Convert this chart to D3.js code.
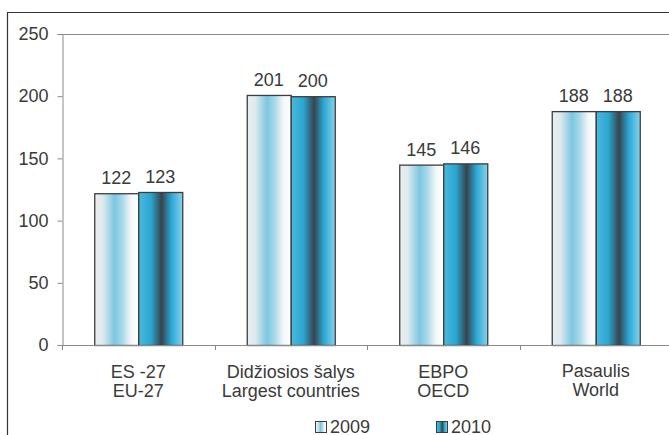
<!DOCTYPE html>
<html><head><meta charset="utf-8">
<script src="https://cdn.jsdelivr.net/npm/d3@7"></script>
<style>
html,body{margin:0;padding:0;background:#fff;}
svg{display:block;font-family:Arial,"Liberation Sans",sans-serif;}
</style></head>
<body>
<svg id="chart" width="669" height="435"></svg>
<script>
const categoriesLine1 = ["ES -27", "Didžiosios šalys", "EBPO", "Pasaulis"];
const categoriesLine2 = ["EU-27", "Largest countries", "OECD", "World"];
const seriesNames = ["2009", "2010"];
const values2009 = [122, 201, 145, 188];
const values2010 = [123, 200, 146, 188];
const yTicks = [0, 50, 100, 150, 200, 250];

const svg = d3.select("#chart");
const W = 669, H = 435;
const plot = {left: 62, right: 672, top: 34, bottom: 345};
const FS = 18;

const defs = svg.append("defs");
const g09 = defs.append("linearGradient").attr("id","g2009").attr("x1","0%").attr("x2","100%").attr("y1","0%").attr("y2","0%");
[["0%","#eaeeef"],["18%","#dfe9ee"],["45%","#7dc6e1"],["62%","#a6d8ea"],["82%","#f4f7f8"],["100%","#ffffff"]]
  .forEach(s=>g09.append("stop").attr("offset",s[0]).attr("stop-color",s[1]));
const g10 = defs.append("linearGradient").attr("id","g2010").attr("x1","0%").attr("x2","100%").attr("y1","0%").attr("y2","0%");
[["0%","#4bb9de"],["28%","#2aa6d0"],["52%","#37444e"],["74%","#2ba8d4"],["100%","#86d3ec"]]
  .forEach(s=>g10.append("stop").attr("offset",s[0]).attr("stop-color",s[1]));

// outer border
svg.append("path").attr("d",`M7.5,${H} V12.5 H${W}`).attr("fill","none").attr("stroke","#333").attr("stroke-width",1.2);

const x0 = d3.scaleBand().domain(categoriesLine1).range([plot.left, plot.right]).padding(0);
const bw = x0.bandwidth();
const barW = 44;
const x1 = d3.scaleBand().domain(seriesNames).range([bw/2 - barW, bw/2 + barW]).padding(0);
const y = d3.scaleLinear().domain([0, 250]).range([plot.bottom, plot.top]);

// plot frame top
svg.append("line").attr("x1",plot.left).attr("x2",plot.right).attr("y1",plot.top+0.5).attr("y2",plot.top+0.5).attr("stroke","#8a8a8a");

// y axis
const yAxis = svg.append("g").attr("transform",`translate(${plot.left+0.5},0)`)
  .call(d3.axisLeft(y).tickValues(yTicks).tickSize(5).tickPadding(9).tickFormat(d3.format("d")));
yAxis.select(".domain").attr("stroke","#8a8a8a");
yAxis.selectAll(".tick line").attr("stroke","#8a8a8a");
yAxis.selectAll("text").attr("font-size",FS).attr("fill","#3a3a3a").attr("font-family","Arial, Liberation Sans, sans-serif");

const data = categoriesLine1.map((c,i)=>({cat:c, vals:[{s:"2009",v:values2009[i]},{s:"2010",v:values2010[i]}]}));

const groups = svg.append("g").selectAll("g").data(data).join("g")
  .attr("transform",d=>`translate(${x0(d.cat)},0)`);
groups.selectAll("rect").data(d=>d.vals).join("rect")
  .attr("x",d=>x1(d.s)+0.5).attr("width",x1.bandwidth())
  .attr("y",d=>y(d.v)+0.5).attr("height",d=>plot.bottom-y(d.v))
  .attr("fill",d=>d.s==="2009"?"url(#g2009)":"url(#g2010)")
  .attr("stroke","#3d3d3d").attr("stroke-width",1.3);
groups.selectAll("text.val").data(d=>d.vals).join("text").attr("class","val")
  .attr("x",d=>x1(d.s)+x1.bandwidth()/2).attr("y",d=>y(d.v)-9)
  .attr("text-anchor","middle").attr("font-size",FS).attr("fill","#3a3a3a")
  .text(d=>d.v);

// x axis
const xAxisG = svg.append("g");
xAxisG.append("line").attr("x1",plot.left).attr("x2",plot.right).attr("y1",plot.bottom+0.5).attr("y2",plot.bottom+0.5).attr("stroke","#8a8a8a");
const bounds = categoriesLine1.map(c=>x0(c)).concat([plot.right]);
xAxisG.selectAll("line.tk").data(bounds).join("line").attr("class","tk")
  .attr("x1",d=>Math.round(d)+0.5).attr("x2",d=>Math.round(d)+0.5).attr("y1",plot.bottom).attr("y2",plot.bottom+5).attr("stroke","#8a8a8a");
const lab = xAxisG.selectAll("text.cat").data(categoriesLine1).join("text").attr("class","cat")
  .attr("x",d=>x0(d)+bw/2).attr("y",(d,i)=> i===3 ? 376.5 : 378)
  .attr("text-anchor","middle").attr("font-size",FS).attr("fill","#3a3a3a");
lab.append("tspan").attr("x",d=>x0(d)+bw/2).text(d=>d);
lab.append("tspan").attr("x",d=>x0(d)+bw/2).attr("dy",19.3).text((d,i)=>categoriesLine2[i]);

// legend
const legend = svg.append("g");
const legX = [315, 436];
seriesNames.forEach((s,i)=>{
  legend.append("rect").attr("x",legX[i]+0.5).attr("y",421.5).attr("width",11).attr("height",11)
    .attr("fill",i===0?"url(#g2009)":"url(#g2010)").attr("stroke","#3d3d3d").attr("stroke-width",1);
  legend.append("text").attr("x",legX[i]+15).attr("y",433).attr("font-size",FS).attr("fill","#3a3a3a").text(s);
});
</script>
</body></html>
